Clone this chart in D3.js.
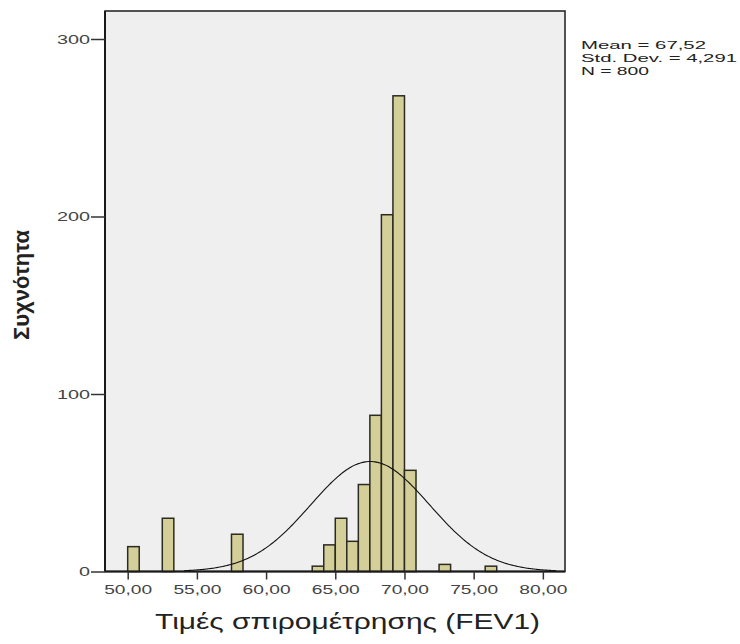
<!DOCTYPE html>
<html>
<head>
<meta charset="utf-8">
<script src="https://cdn.jsdelivr.net/npm/d3@7"></script>
<style>
  body { margin: 0; background: #fff; }
  svg { display: block; font-family: "Liberation Sans", Arial, sans-serif; }
</style>
</head>
<body>
<div class="chartHolder"></div>
<script>
// histogram data
const binWidth = 5 / 6;
const binStarts = [50, 52.5, 57.5, 63.333, 64.167, 65, 65.833, 66.667, 67.5, 68.333, 69.167, 70, 72.5, 75.833];
const counts = [14, 30, 21, 3, 15, 30, 17, 49, 88, 201, 268, 57, 4, 3];
const xTicks = [50, 55, 60, 65, 70, 75, 80];
const yTicks = [0, 100, 200, 300];
const stats = { mean: 67.52, sd: 4.291, n: 800 };
const statLines = ["Mean = 67,52", "Std. Dev. = 4,291", "N = 800"];
const curveRange = [54.07, 81.0];

const width = 740;
const height = 644;

// plot frame
const plotLeft = 105, plotRight = 565, plotTop = 11, plotBottom = 571.5;

let svg = d3.select(".chartHolder")
  .append("svg")
  .attr("width", width)
  .attr("height", height);

let xScale = d3.scaleLinear().domain([48.36, 81.6]).range([plotLeft, plotRight]);
let yScale = d3.scaleLinear().domain([0, 300]).range([plotBottom, 39]);

// background
svg.append("rect")
  .attr("x", plotLeft).attr("y", plotTop)
  .attr("width", plotRight - plotLeft).attr("height", plotBottom - plotTop)
  .attr("fill", "#efefef")
  .attr("stroke", "#2a2a2a")
  .attr("stroke-width", 1.6);

// bars
svg.append("g")
  .selectAll("rect")
  .data(counts)
  .enter()
  .append("rect")
  .attr("x", (d, i) => xScale(binStarts[i]))
  .attr("y", d => yScale(d))
  .attr("width", (d, i) => xScale(binStarts[i] + binWidth) - xScale(binStarts[i]))
  .attr("height", d => plotBottom - yScale(d))
  .attr("fill", "#d4cf98")
  .attr("stroke", "#2b2b22")
  .attr("stroke-width", 1.5);

// normal curve from the stated mean / sd / N
const curveX = d3.range(curveRange[0], curveRange[1] + 0.001, 0.1);
const density = x => stats.n * binWidth / (stats.sd * Math.sqrt(2 * Math.PI)) *
  Math.exp(-0.5 * Math.pow((x - stats.mean) / stats.sd, 2));

svg.append("path")
  .datum(curveX)
  .attr("d", d3.line().x(d => xScale(d)).y(d => yScale(density(d))).curve(d3.curveBasis))
  .attr("fill", "none")
  .attr("stroke", "#111")
  .attr("stroke-width", 1.1);

// axes
let xAxis = d3.axisBottom(xScale)
  .tickValues(xTicks)
  .tickSize(8)
  .tickPadding(5)
  .tickFormat(d => d3.format(".2f")(d).replace(".", ","));

let gx = svg.append("g")
  .attr("transform", `translate(0, ${plotBottom})`)
  .call(xAxis);
gx.select(".domain").attr("stroke", "#1a1a1a").attr("stroke-width", 2).attr("d", `M${plotLeft},0H${plotRight}`);
gx.selectAll(".tick line").attr("stroke", "#333").attr("stroke-width", 1.5);
gx.selectAll(".tick text")
  .attr("font-size", 13)
  .attr("fill", "#444")
  .attr("font-family", "Liberation Sans, Arial, sans-serif")
  .attr("textLength", 48)
  .attr("lengthAdjust", "spacingAndGlyphs");

let yAxis = d3.axisLeft(yScale)
  .tickValues(yTicks)
  .tickSize(14)
  .tickPadding(1);

let gy = svg.append("g")
  .attr("transform", `translate(${plotLeft}, 0)`)
  .call(yAxis);
gy.select(".domain").attr("stroke", "#1a1a1a").attr("stroke-width", 2).attr("d", `M0,${plotTop}V${plotBottom}`);
gy.selectAll(".tick line").attr("stroke", "#333").attr("stroke-width", 1.5);
gy.selectAll(".tick text")
  .attr("font-size", 13.5)
  .attr("fill", "#444")
  .attr("font-family", "Liberation Sans, Arial, sans-serif")
  .attr("textLength", d => String(d).length * 11)
  .attr("lengthAdjust", "spacingAndGlyphs");

// axis titles
svg.append("text")
  .attr("x", 155)
  .attr("y", 629)
  .attr("font-size", 22)
  .attr("fill", "#222")
  .attr("textLength", 385)
  .attr("lengthAdjust", "spacingAndGlyphs")
  .text("Τιμές σπιρομέτρησης (FEV1)");

svg.append("text")
  .attr("transform", "translate(29, 285) rotate(-90) scale(1, 1.4)")
  .attr("text-anchor", "middle")
  .attr("font-size", 16)
  .attr("font-weight", "bold")
  .attr("fill", "#222")
  .attr("textLength", 110)
  .attr("lengthAdjust", "spacingAndGlyphs")
  .text("Συχνότητα");

// stats box text
const statWidths = [125, 156, 68];
svg.append("g")
  .selectAll("text")
  .data(statLines)
  .enter()
  .append("text")
  .attr("x", 581)
  .attr("y", (d, i) => 49 + i * 13)
  .attr("font-size", 11.5)
  .attr("fill", "#222")
  .attr("textLength", (d, i) => statWidths[i])
  .attr("lengthAdjust", "spacingAndGlyphs")
  .text(d => d);
</script>
</body>
</html>
